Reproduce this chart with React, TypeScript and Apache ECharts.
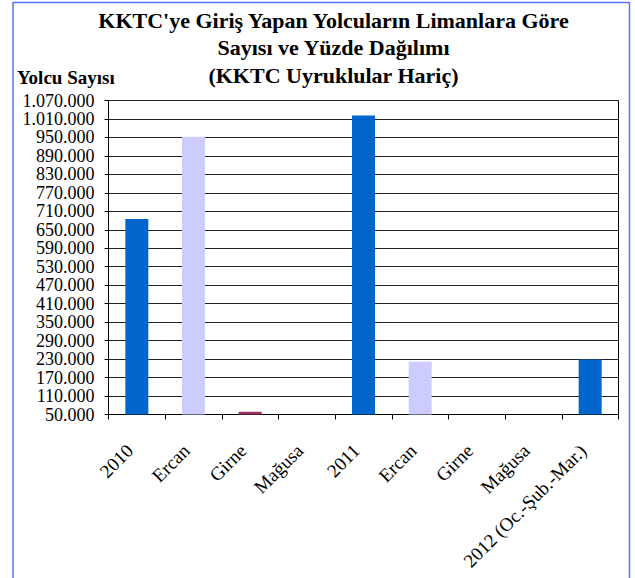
import React, { useEffect, useRef } from "react";
import * as echarts from "echarts";

// ---- data ----
const categories = [
  "2010",
  "Ercan",
  "Girne",
  "Mağusa",
  "2011",
  "Ercan",
  "Girne",
  "Mağusa",
  "2012 (Oc.-Şub.-Mar.)",
];
const passengers = [685000, 952000, 59000, 20000, 1021000, 221000, 30000, 20000, 229000];
const portKinds = ["year", "Ercan", "Girne", "Mağusa", "year", "Ercan", "Girne", "Mağusa", "year"];
const yAxisMin = 50000;
const yAxisMax = 1070000;
const yAxisStep = 60000;
const titleLines = [
  "KKTC'ye Giriş Yapan Yolcuların Limanlara Göre",
  "Sayısı ve Yüzde Dağılımı",
  "(KKTC Uyruklular Hariç)",
];
const yAxisTitle = "Yolcu Sayısı";

const kindColors: Record<string, string> = {
  year: "#0066CC",
  Ercan: "#CCCCFF",
  Girne: "#993366",
  "Mağusa": "#FFFFCC",
};

const FONT = "Liberation Serif";

function fmt(n: number): string {
  return String(Math.round(n)).replace(/\B(?=(\d{3})+(?!\d))/g, ".");
}

export default function App() {
  const ref = useRef<HTMLDivElement>(null);

  useEffect(() => {
    if (!ref.current) return;
    const chart = echarts.init(ref.current, undefined, { renderer: "svg" });

    const titleYs = [20, 47.5, 75];

    chart.setOption({
      animation: false,
      backgroundColor: "#fff",
      grid: {
        left: 108.5,
        right: 16.5,
        top: 100.5,
        bottom: 163.5,
        show: true,
        borderColor: "#000",
        borderWidth: 1,
      },
      xAxis: {
        type: "category",
        data: categories,
        boundaryGap: true,
        axisLine: { show: true, lineStyle: { color: "#000", width: 1 } },
        axisTick: { show: true, length: 5, alignWithLabel: false, lineStyle: { color: "#000" } },
        axisLabel: {
          interval: 0,
          rotate: 45,
          margin: 26,
          padding: [0, 10, 0, 0],
          fontSize: 19,
          fontFamily: FONT,
          color: "#000",
        },
        splitLine: { show: false },
      },
      yAxis: {
        type: "value",
        min: 0,
        max: yAxisMax - yAxisMin,
        interval: yAxisStep,
        axisLine: { show: true, lineStyle: { color: "#000", width: 1 } },
        axisTick: { show: true, length: 4, lineStyle: { color: "#000" } },
        axisLabel: {
          formatter: (v: number) => fmt(v + yAxisMin),
          fontSize: 18,
          fontFamily: FONT,
          color: "#000",
          margin: 14,
        },
        splitLine: { show: true, lineStyle: { color: "#222", width: 1 } },
      },
      series: [
        {
          type: "bar",
          barWidth: 23,
          clip: true,
          data: passengers.map((v, i) => ({
            value: Math.max(0, v - yAxisMin),
            itemStyle: { color: kindColors[portKinds[i]] },
          })),
        },
      ],
      graphic: [
        {
          type: "polyline",
          silent: true,
          shape: {
            points: [
              [13, 580],
              [13, 2.5],
              [629.5, 2.5],
              [629.5, 580],
            ],
          },
          style: { stroke: "#5577ee", lineWidth: 1.5, fill: "none" },
        },
        ...titleLines.map((t, i) => ({
          type: "text",
          x: 333.5,
          y: titleYs[i],
          style: {
            text: t,
            font: "bold 22px 'Liberation Serif'",
            fill: "#000",
            align: "center",
            verticalAlign: "middle",
          },
        })),
        {
          type: "text",
          x: 17,
          y: 77,
          style: {
            text: yAxisTitle,
            font: "bold 19px 'Liberation Serif'",
            fill: "#000",
            align: "left",
            verticalAlign: "middle",
          },
        },
      ],
    });

    return () => {
      chart.dispose();
    };
  }, []);

  return (
    <div
      ref={ref}
      style={{ position: "absolute", left: 0, top: 0, width: 635, height: 578 }}
    />
  );
}
